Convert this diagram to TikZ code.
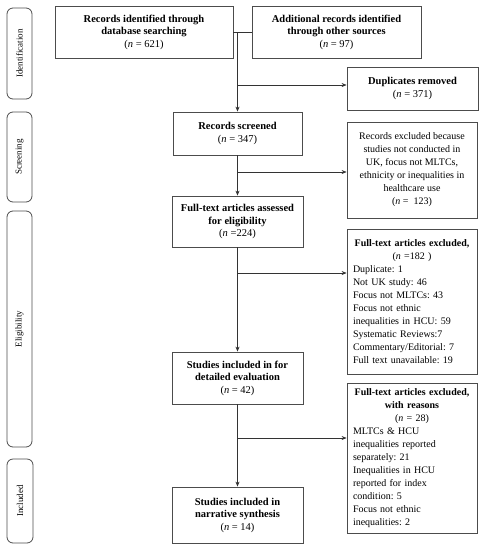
\documentclass[tikz,border=0pt]{standalone}
\usepackage{fontspec}
\setmainfont{Liberation Serif}
\usetikzlibrary{arrows.meta}
\frenchspacing
\begin{document}
\begin{tikzpicture}[x=1pt,y=-1pt,
  box/.style={draw=black!70, line width=0.8pt, fill=white, align=center, inner sep=0pt,
    font=\fontsize{10.5}{12.5}\selectfont\frenchspacing},
  side/.style={draw=black!70, line width=0.8pt, rounded corners=6pt, inner sep=0pt},
  lab/.style={rotate=90, font=\fontsize{9}{11}\selectfont},
  arr/.style={-{Stealth[length=5pt,width=4pt]}, line width=0.6pt, draw=black!80},
  ln/.style={line width=0.6pt, draw=black!80}]
\useasboundingbox (0,0) rectangle (488,550);
% side labels
\node[side, minimum width=25pt, minimum height=91pt] (sid) at (19.5,53.5) {};
\node[lab] (tid) at (sid.center) {Identification};
\node[side, minimum width=25pt, minimum height=90pt] (ssc) at (19.5,157) {};
\node[lab] (tsc) at (ssc.center) {Screening};
\node[side, minimum width=25pt, minimum height=236pt] (sel) at (19.5,329) {};
\node[lab] (tel) at (sel.center) {Eligibility};
\node[side, minimum width=26pt, minimum height=84pt] (sin) at (20,501) {};
\node[lab] (tin) at (sin.center) {Included};
% main boxes
\node[box, minimum width=178pt, minimum height=52pt] (b1) at (144,32)
  {\textbf{Records identified through}\\\textbf{database searching}\\(\textit{n} = 621)};
\node[box, minimum width=169pt, minimum height=52pt] (b2) at (336.5,32)
  {\textbf{Additional records identified}\\\textbf{through other sources}\\(\textit{n} = 97)};
\node[box, minimum width=131pt, minimum height=43pt] (dup) at (412.5,88.5)
  {\textbf{Duplicates removed}\\(\textit{n} = 371)};
\node[box, minimum width=129pt, minimum height=43pt] (scr) at (237.5,133.5)
  {\textbf{Records screened}\\(\textit{n} = 347)};
\node[box, minimum width=130pt, minimum height=96pt, font=\fontsize{10}{13}\selectfont\frenchspacing] (ex1) at (412,170)
  {Records excluded because\\studies not conducted in\\UK, focus not MLTCs,\\ethnicity or inequalities in\\healthcare use\\(\textit{n} =\ \ 123)};
\node[box, minimum width=131pt, minimum height=51pt] (ft) at (237.5,221.5)
  {\textbf{Full-text articles assessed}\\\textbf{for eligibility}\\(\textit{n} =224)};
\node[box, minimum width=130pt, minimum height=145pt, text width=118pt, align=left,
  font=\fontsize{10}{13}\selectfont\frenchspacing] (ex2) at (412,301.5)
  {\centering\textbf{Full-text articles excluded,}\\(\textit{n} =182 )\par
   \raggedright Duplicate: 1\\Not UK study: 46\\Focus not MLTCs: 43\\Focus not ethnic\\inequalities in HCU: 59\\Systematic Reviews:7\\Commentary/Editorial: 7\\Full text unavailable: 19\par};
\node[box, minimum width=131pt, minimum height=52pt] (st) at (237.5,378)
  {\textbf{Studies included in for}\\\textbf{detailed evaluation}\\(\textit{n} = 42)};
\node[box, minimum width=130pt, minimum height=150pt, text width=118pt, align=left,
  font=\fontsize{10}{13}\selectfont\frenchspacing] (ex3) at (412,458)
  {\centering\textbf{Full-text articles excluded,}\\\textbf{with reasons}\\(\textit{n} = 28)\par
   \raggedright MLTCs \& HCU\\inequalities reported\\separately: 21\\Inequalities in HCU\\reported for index\\condition: 5\\Focus not ethnic\\inequalities: 2\par};
\node[box, minimum width=131pt, minimum height=56pt] (nar) at (237.5,515)
  {\textbf{Studies included in}\\\textbf{narrative synthesis}\\(\textit{n} = 14)};
% connectors
\coordinate (j1) at (237.5,32);
\coordinate (j2) at (237.5,85);
\coordinate (j3) at (237.5,172);
\coordinate (j4) at (237.5,273);
\coordinate (j5) at (237.5,438);
\draw[ln] (b1.east) -- (b2.west);
\draw[arr] (j1) -- (scr.north);
\draw[arr] (j2) -- (j2 -| dup.west);
\draw[arr] (scr.south) -- (ft.north);
\draw[arr] (j3) -- (j3 -| ex1.west);
\draw[arr] (ft.south) -- (st.north);
\draw[arr] (j4) -- (j4 -| ex2.west);
\draw[arr] (st.south) -- (nar.north);
\draw[arr] (j5) -- (j5 -| ex3.west);
\end{tikzpicture}
\end{document}
